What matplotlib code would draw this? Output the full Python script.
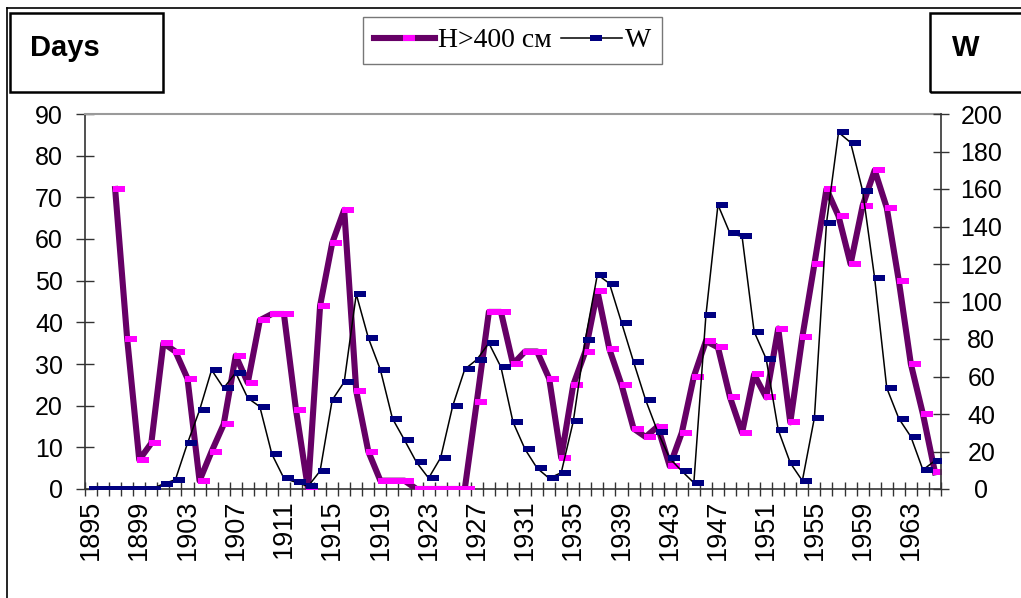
import numpy as np
import matplotlib
matplotlib.use("Agg")
import matplotlib.pyplot as plt
from matplotlib.path import Path
from matplotlib.patches import Rectangle
from matplotlib.lines import Line2D

# ---------------- data ----------------
years = list(range(1895, 1966))
h_days = [np.nan, np.nan, 72, 36, 7, 11, 35, 33, 26.5, 2,
          9, 15.5, 32, 25.5, 40.5, 42, 42, 19, 0, 44,
          59, 67, 23.5, 9, 2, 2, 2, 0, 0, 0,
          0, 0, 21, 42.5, 42.5, 30, 33, 33, 26.5, 7.5,
          25, 33, 47.5, 33.5, 25, 14.5, 12.5, 15, 5.5, 13.5,
          27, 35.5, 34, 22, 13.5, 27.5, 22, 38.5, 16, 36.5,
          54, 72, 65.5, 54, 68, 76.5, 67.5, 50, 30, 18,
          4]
w_index = [0, 0, 0, 0, 0, 0, 2.7, 5.0, 24.4, 42.0,
           63.5, 53.8, 62.0, 48.5, 43.9, 18.6, 5.7, 3.6, 1.4, 9.6,
           47.4, 57.1, 103.9, 80.6, 63.6, 37.6, 26.1, 14.2, 5.8, 16.7,
           44.3, 63.9, 69.0, 77.8, 65.0, 35.7, 21.2, 11.1, 5.7, 8.7,
           36.1, 79.7, 114.4, 109.6, 88.8, 67.8, 47.5, 30.6, 16.3, 9.6,
           3.3, 92.6, 151.6, 136.3, 134.7, 83.9, 69.4, 31.5, 13.9, 4.4,
           38.0, 141.7, 190.2, 184.8, 159.0, 112.3, 53.9, 37.6, 27.9, 10.2,
           15.1]
label_years = years[::4]
left_ticks = list(range(0, 91, 10))
right_ticks = list(range(0, 201, 20))
series_labels = ["H>400 см", "W"]

# ---------------- figure ----------------
W_PX, H_PX = 1021, 598
fig = plt.figure(figsize=(W_PX / 100, H_PX / 100), dpi=100)
fig.patch.set_facecolor("white")

def fx(px):
    return px / W_PX

def fy(py):
    return 1 - py / H_PX

L, R, T, B = 85, 941, 114, 489
ax = fig.add_axes([fx(L), fy(B), fx(R - L), (B - T) / H_PX])
ax2 = ax.twinx()

# wide rectangular marker, slightly shifted right like the reference
c = 0.34
rect = Path([(-0.5 + c, -0.25), (0.5 + c, -0.25), (0.5 + c, 0.25),
             (-0.5 + c, 0.25), (-0.5 + c, -0.25)],
            [Path.MOVETO, Path.LINETO, Path.LINETO, Path.LINETO, Path.CLOSEPOLY])

x = np.arange(len(years))
l1, = ax.plot(x, h_days, color="#660066", lw=4.4, solid_joinstyle="round",
              marker=rect, ms=14.5, mfc="#FF00FF", mec="#FF00FF", mew=0,
              label=series_labels[0], zorder=3)
l2, = ax2.plot(x, w_index, color="black", lw=1.1,
               marker=rect, ms=14.5, mfc="#000080", mec="#000080", mew=0,
               label=series_labels[1], zorder=3)

tick_font = {"family": "Liberation Sans", "size": 18}
xtick_font = {"family": "Liberation Sans", "size": 19.5}

ax.set_xlim(-0.5, len(years) - 0.5)
ax.set_ylim(0, 90)
ax2.set_ylim(0, 200)

ax.set_xticks(x[::4])
ax.set_xticklabels([str(y) for y in label_years], rotation=90, fontdict=xtick_font)
ax.set_xticks(np.arange(-0.5, len(years), 1.0), minor=True)
ax.tick_params(axis="x", which="major", length=0, pad=7.5)
ax.tick_params(axis="x", which="minor", direction="inout", length=10,
               width=1.0, color="#333333")

ax.set_yticks(left_ticks)
ax.set_yticklabels([str(v) for v in left_ticks], fontdict=tick_font)
ax.tick_params(axis="y", direction="inout", length=13, width=1.0,
               color="#333333", pad=9.3)

ax2.set_yticks(right_ticks)
ax2.set_yticklabels([str(v) for v in right_ticks], fontdict=tick_font)
ax2.tick_params(axis="y", direction="inout", length=12, width=1.0,
                color="#333333", pad=23)
for lab in ax2.get_yticklabels():
    lab.set_horizontalalignment("center")

for s in ["left", "bottom"]:
    ax.spines[s].set_color("#333333")
    ax.spines[s].set_linewidth(1.2)
ax.spines["top"].set_color("#9a9a9a")
ax.spines["top"].set_linewidth(1.5)
ax.spines["right"].set_visible(False)
for s in ["left", "bottom", "top"]:
    ax2.spines[s].set_visible(False)
ax2.spines["right"].set_color("#333333")
ax2.spines["right"].set_linewidth(1.2)

# ---------------- decorations ----------------
# outer frame lines
fig.add_artist(Line2D([fx(7), fx(7)], [fy(8), 0], transform=fig.transFigure,
                      color="black", lw=1.2))
fig.add_artist(Line2D([fx(7), 1], [fy(8), fy(8)], transform=fig.transFigure,
                      color="black", lw=1.2))

# "Days" box
fig.add_artist(Rectangle((fx(10), fy(92)), fx(163 - 10), (92 - 13) / H_PX,
                         transform=fig.transFigure, fill=False,
                         edgecolor="black", lw=1.8))
fig.text(fx(30), fy(48), "Days", ha="left", va="center",
         family=["Liberation Sans Narrow", "Liberation Sans"],
         weight="bold", size=21)

# "W" box
fig.add_artist(Rectangle((fx(930), fy(92)), fx(120), (92 - 13) / H_PX,
                         transform=fig.transFigure, fill=False,
                         edgecolor="black", lw=1.8))
fig.text(fx(966), fy(48), "W", ha="center", va="center",
         family=["Liberation Sans Narrow", "Liberation Sans"],
         weight="bold", size=21)

leg = fig.legend([l1, l2], series_labels, ncol=2, loc="center",
                 bbox_to_anchor=(fx(512.5), fy(40.5)),
                 prop={"family": "Liberation Serif", "size": 20},
                 frameon=True, fancybox=False, edgecolor="#555555",
                 handlelength=2.2, handletextpad=0.08, columnspacing=0.36,
                 borderpad=0.4, numpoints=1)
leg.get_frame().set_linewidth(1.0)

fig.savefig("out.png", dpi=100, facecolor="white")
